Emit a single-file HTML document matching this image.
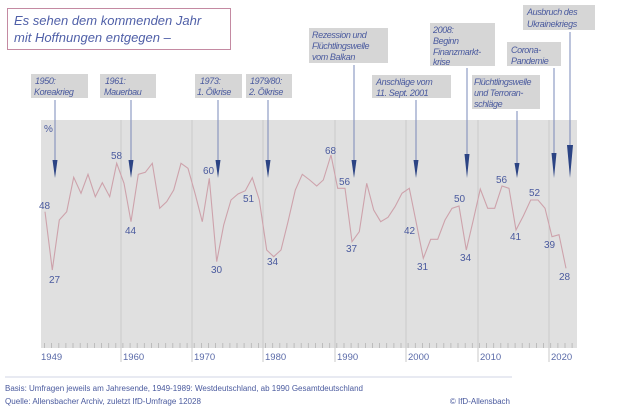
<!DOCTYPE html>
<html><head><meta charset="utf-8"><style>
html,body{margin:0;padding:0;background:#fff;}
svg{display:block;}
text{font-family:"Liberation Sans",sans-serif;}
.a{font-style:italic;font-size:9px;fill:#4a5a9e;letter-spacing:-0.4px;}
.v{font-size:10px;fill:#4a5a9e;}
.y{font-size:9.5px;fill:#5a6aa8;}
.f{font-size:8px;fill:#4a5a9e;}
</style></head><body>
<svg width="633" height="410" viewBox="0 0 633 410" xmlns="http://www.w3.org/2000/svg">
<rect x="0" y="0" width="633" height="410" fill="#fff"/>
<rect x="7.5" y="8.5" width="223" height="41" fill="#fff" stroke="#c48aa2" stroke-width="1"/>
<text x="14" y="25" style="font-style:italic;font-size:13px;fill:#5060a8">Es sehen dem kommenden Jahr</text>
<text x="14" y="42" style="font-style:italic;font-size:13px;fill:#5060a8">mit Hoffnungen entgegen –</text>

<rect x="41" y="120" width="536" height="228" fill="#e0e0e0"/>
<g stroke="#cacaca" stroke-width="1">
<line x1="121" y1="120" x2="121" y2="362"/><line x1="192" y1="120" x2="192" y2="362"/>
<line x1="263" y1="120" x2="263" y2="362"/><line x1="335" y1="120" x2="335" y2="362"/>
<line x1="406" y1="120" x2="406" y2="362"/><line x1="478" y1="120" x2="478" y2="362"/>
<line x1="549" y1="120" x2="549" y2="362"/>
</g>
<path stroke="#b4b4b4" stroke-width="0.8" fill="none" d="M44.5 343v5M51.6 343v5M58.8 343v5M65.9 343v5M73 343v5M80.2 343v5M87.3 343v5M94.4 343v5M101.5 343v5M108.7 343v5M115.8 343v5M122.9 343v5M130.1 343v5M137.2 343v5M144.3 343v5M151.5 343v5M158.6 343v5M165.7 343v5M172.8 343v5M180 343v5M187.1 343v5M194.2 343v5M201.4 343v5M208.5 343v5M215.6 343v5M222.8 343v5M229.9 343v5M237 343v5M244.1 343v5M251.3 343v5M258.4 343v5M265.5 343v5M272.7 343v5M279.8 343v5M286.9 343v5M294.1 343v5M301.2 343v5M308.3 343v5M315.4 343v5M322.6 343v5M329.7 343v5M336.8 343v5M344 343v5M351.1 343v5M358.2 343v5M365.4 343v5M372.5 343v5M379.6 343v5M386.7 343v5M393.9 343v5M401 343v5M408.1 343v5M415.3 343v5M422.4 343v5M429.5 343v5M436.7 343v5M443.8 343v5M450.9 343v5M458 343v5M465.2 343v5M472.3 343v5M479.4 343v5M486.6 343v5M493.7 343v5M500.8 343v5M508 343v5M515.1 343v5M522.2 343v5M529.3 343v5M536.5 343v5M543.6 343v5M550.7 343v5M557.9 343v5M565 343v5M572.1 343v5"/>
<text class="v" x="44" y="132">%</text>

<polyline fill="none" stroke="#cda2ab" stroke-width="1.1" points="45,211.7 52.3,270 59.3,220 66.7,211.7 73.7,177.3 81,193.3 88,174.3 95.3,196.7 102.3,182.7 109.7,196.7 116.7,163.3 124,183.3 131,221.7 138.3,174.3 145.3,172.3 152.3,163.3 159.7,208.3 166.7,201.7 173.7,190 181,163.3 188,168.3 195,193.3 202.3,221.7 209.3,178.3 216.7,261.7 223.7,225 231,200 238,194 245.3,190.7 252.3,177.7 259.3,200 266.7,250 273.7,256.7 281,250 288,221.7 295.3,190 302.3,174.3 309.7,180 316.7,186 323.3,180 331,155 337.7,188.3 345,188.3 352,241.7 359.3,231.7 366.7,183.3 373.7,210 380.7,221.7 388,217.3 395,206.7 402,193.3 409.3,188.3 416.3,223 423.3,258.3 430.7,239.3 437.7,239.3 445,220 452,208.3 459,206 466.3,250 473.3,220 480.3,189 487.7,208.3 494.7,208.3 502,186 509,188.3 516,230 523.3,216 530.7,200 538,200 545,208.3 552,236.7 559,234.7 566,268.3"/>

<g class="v">
<text x="39" y="209">48</text><text x="49" y="283">27</text><text x="111" y="159">58</text><text x="125" y="234">44</text>
<text x="203" y="174">60</text><text x="211" y="273">30</text><text x="243" y="202">51</text><text x="267" y="265">34</text>
<text x="325" y="154">68</text><text x="339" y="185">56</text><text x="346" y="252">37</text><text x="404" y="234">42</text>
<text x="417" y="270">31</text><text x="454" y="202">50</text><text x="460" y="261">34</text><text x="496" y="183">56</text>
<text x="510" y="240">41</text><text x="529" y="196">52</text><text x="544" y="248">39</text><text x="559" y="280">28</text>
</g>

<g fill="#d6d6d6">
<rect x="31" y="74" width="57" height="24"/><rect x="100" y="74" width="56" height="24"/>
<rect x="195" y="74" width="47" height="24"/><rect x="246" y="74" width="46" height="24"/>
<rect x="309" y="28" width="79" height="35"/><rect x="372" y="75" width="79" height="23"/>
<rect x="430" y="23" width="65" height="43"/><rect x="472" y="75" width="68" height="34"/>
<rect x="507" y="42" width="54" height="24"/><rect x="523" y="5" width="72" height="25"/>
</g>
<g class="a">
<text x="35" y="84">1950:</text><text x="34" y="95">Koreakrieg</text>
<text x="105" y="84">1961:</text><text x="104" y="95">Mauerbau</text>
<text x="200" y="84">1973:</text><text x="197" y="95">1. Ölkrise</text>
<text x="250" y="84">1979/80:</text><text x="249" y="95">2. Ölkrise</text>
<text x="312" y="38">Rezession und</text><text x="312" y="49">Flüchtlingswelle</text><text x="312" y="60">vom Balkan</text>
<text x="376" y="85">Anschläge vom</text><text x="376" y="96">11. Sept. 2001</text>
<text x="433" y="33">2008:</text><text x="433" y="44">Beginn</text><text x="433" y="55">Finanzmarkt-</text><text x="433" y="65">krise</text>
<text x="474" y="85">Flüchtlingswelle</text><text x="474" y="96">und Terroran-</text><text x="474" y="107">schläge</text>
<text x="511" y="53">Corona-</text><text x="511" y="64">Pandemie</text>
<text x="527" y="15">Ausbruch des</text><text x="527" y="27">Ukrainekriegs</text>
</g>
<g stroke="#7a88b8" stroke-width="1">
<line x1="55" y1="100" x2="55" y2="165"/><line x1="131" y1="100" x2="131" y2="165"/>
<line x1="218" y1="100" x2="218" y2="165"/><line x1="268" y1="100" x2="268" y2="165"/>
<line x1="354" y1="65" x2="354" y2="165"/><line x1="416" y1="100" x2="416" y2="165"/>
<line x1="467" y1="68" x2="467" y2="160"/><line x1="517" y1="111" x2="517" y2="165"/>
<line x1="554" y1="68" x2="554" y2="160"/><line x1="570" y1="32" x2="570" y2="150"/>
</g>
<g fill="#2c4484">
<polygon points="52.5,160 57.5,160 55,178"/><polygon points="128.5,160 133.5,160 131,178"/>
<polygon points="215.5,160 220.5,160 218,178"/><polygon points="265.5,160 270.5,160 268,178"/>
<polygon points="351.5,160 356.5,160 354,178"/><polygon points="413.5,160 418.5,160 416,178"/>
<polygon points="464.5,154 469.5,154 467,178"/><polygon points="514.5,163 519.5,163 517,178"/>
<polygon points="551.5,153 556.5,153 554,178"/><polygon points="567,145 573,145 570,178"/>
</g>

<g class="y">
<text x="41" y="360">1949</text><text x="123" y="360">1960</text><text x="194" y="360">1970</text>
<text x="265" y="360">1980</text><text x="337" y="360">1990</text><text x="408" y="360">2000</text>
<text x="480" y="360">2010</text><text x="551" y="360">2020</text>
</g>
<line x1="5" y1="377" x2="512" y2="377" stroke="#d0d4e4" stroke-width="1"/>
<text class="f" x="5" y="391" textLength="358" lengthAdjust="spacingAndGlyphs">Basis: Umfragen jeweils am Jahresende, 1949-1989: Westdeutschland, ab 1990 Gesamtdeutschland</text>
<text class="f" x="5" y="404" textLength="196" lengthAdjust="spacingAndGlyphs">Quelle: Allensbacher Archiv, zuletzt IfD-Umfrage 12028</text>
<text class="f" x="510" y="404" text-anchor="end">© IfD-Allensbach</text>
</svg>
</body></html>
